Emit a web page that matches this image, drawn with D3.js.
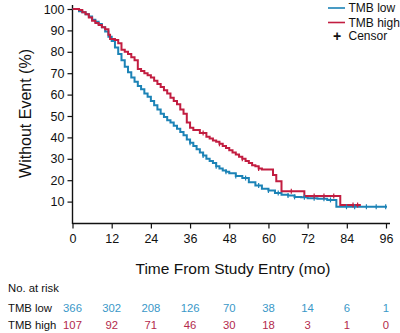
<!DOCTYPE html>
<html><head><meta charset="utf-8">
<script src="https://cdn.jsdelivr.net/npm/d3@7"></script>
<style>body{margin:0;background:#fff}svg{display:block;font-family:"Liberation Sans",Arial,sans-serif}</style>
</head><body><svg id="c" width="400" height="333"></svg>
<script>
// Kaplan-Meier step points: [month, % without event]
const lowTimes  = [0,2,3,4,5,6,7,8,9,10,11,12,13,14,15,16,17,18,19,20,21,22,23,24,25,26,27,28,29,30,31,32,33,34,35,36,37,38,39,40,41,42,43,44,45,46,47,48,50,52,54,56,58,60,62,64,66,68,70,72,75,78,80.8,96.3];
const lowVals   = [100,99,98.5,97.5,96.5,95,94,93,91.5,89.5,87,85,82,79,76,73,70.5,68,66,64,62.5,60.5,59,57,55,53,51,49.5,48,47,45.5,44,42.5,41,39,37.5,36,34.5,33,31.5,30,29,28,26.5,25.5,24.5,24,23.2,22,21,19,17.5,16,15.2,14,13.2,12.8,12.2,12,11.6,11.3,10.8,7.6,7.6];
const highTimes = [0,2,3,4,5,6,7,8,9,10,11,11.5,13,14,15,16,17,18,19,20,21,22,23,24,25,26,27,28,29,30,31,32,33,34,35,36,37,39,41,42,43,44,45,46,47,48,49,50,51,52,53,54,55,56,57,58,61.4,62.4,64,71,82,88.3];
const highVals  = [100,99.5,98.5,97.5,96,94.5,93.5,92.5,91.5,90.5,88,86,85.5,84,81,80,79,77.5,76,72,71,70,69,68,66.5,65,63.5,62,60.5,58.5,57,55.5,53,51,47,44.5,43.5,42,40.3,39.5,38.5,38,37,36,35,34,33,32,31,30,29,28,27,26.5,25.5,25,22.4,19.5,14.8,12.6,8.4,8.4];
const lowCensor  = [36,40,44,47,50,53,57,60,63,66,68,71,74,77,79,83.9,86.4,90,93,95.9];
const highCensor = [40,45,52,57,67,74,77,80,85.9,87.3];
const xTicks = [0,12,24,36,48,60,72,84,96];
const yTicks = [10,20,30,40,50,60,70,80,90,100];
const riskLow  = [366,302,208,126,70,38,14,6,1];
const riskHigh = [107,92,71,46,30,18,3,1,0];
const seriesNames = ["TMB low","TMB high"];
const colLow = "#1c83b6", colHigh = "#c21d40";
const txtLow = "#3a98c8", txtHigh = "#b32a4c";

const svg = d3.select("#c");
const x = d3.scaleLinear().domain([0,96]).range([72.5,386]);
const y = d3.scaleLinear().domain([0,100]).range([223,9]);

const low = lowTimes.map((t,i)=>({t, v:lowVals[i]}));
const high = highTimes.map((t,i)=>({t, v:highVals[i]}));

// axes
const gx = svg.append("g").attr("transform","translate(0,223.5)")
  .call(d3.axisBottom(x).tickValues(xTicks).tickSize(5).tickPadding(6).tickSizeOuter(0));
gx.select(".domain").attr("d","M72.5,0H390").attr("stroke","#111").attr("stroke-width",1.4);
gx.selectAll(".tick line").attr("stroke","#111").attr("stroke-width",1.2);
gx.selectAll("text").attr("font-size",12.5).attr("fill","#111").attr("font-family","Liberation Sans, Arial, sans-serif");

const gy = svg.append("g").attr("transform","translate(72.5,0)")
  .call(d3.axisLeft(y).tickValues(yTicks).tickSize(5).tickPadding(3).tickSizeOuter(0));
gy.select(".domain").attr("d","M0,5V224").attr("stroke","#111").attr("stroke-width",1.4);
gy.selectAll(".tick line").attr("stroke","#111").attr("stroke-width",1.2);
gy.selectAll("text").attr("font-size",12.5).attr("fill","#111").attr("font-family","Liberation Sans, Arial, sans-serif");

// curves
const line = d3.line().x(d=>x(d.t)).y(d=>y(d.v)).curve(d3.curveStepAfter);
svg.append("path").datum(low).attr("d",line).attr("fill","none").attr("stroke",colLow).attr("stroke-width",2);
svg.append("path").datum(high).attr("d",line).attr("fill","none").attr("stroke",colHigh).attr("stroke-width",2);

function valAt(series,t){let v=series[0].v;for(const d of series){if(d.t<=t)v=d.v;else break;}return v;}
function censors(series,times,col){
  svg.append("g").selectAll("path").data(times).join("path")
    .attr("d",t=>`M${x(t)},${y(valAt(series,t))-2.5}v5`)
    .attr("stroke",col).attr("stroke-width",1.2);
}
censors(low,lowCensor,colLow);
censors(high,highCensor,colHigh);

// axis titles
svg.append("text").attr("transform","translate(31,113.5) rotate(-90)").attr("text-anchor","middle")
  .attr("font-size",16).attr("fill","#111").text("Without Event (%)");
svg.append("text").attr("x",233).attr("y",273.5).attr("text-anchor","middle")
  .attr("font-size",15.5).attr("fill","#111").text("Time From Study Entry (mo)");

// legend
const lg = svg.append("g").attr("font-size",12).attr("fill","#111");
[[colLow,8],[colHigh,22.5]].forEach(([c,yy],i)=>{
  lg.append("line").attr("x1",328).attr("x2",345).attr("y1",yy).attr("y2",yy).attr("stroke",c).attr("stroke-width",1.6);
  lg.append("text").attr("x",348.5).attr("y",yy+4.3).text(seriesNames[i]);
});
lg.append("text").attr("x",337).attr("y",40.5).attr("text-anchor","middle").attr("font-size",14).attr("font-weight","bold").text("+");
lg.append("text").attr("x",348.5).attr("y",40).text("Censor");

// risk table
const rt = svg.append("g").attr("font-size",11.3);
rt.append("text").attr("x",8).attr("y",291.5).attr("fill","#111").text("No. at risk");
rt.append("text").attr("x",8).attr("y",311.5).attr("fill","#111").text(seriesNames[0]);
rt.append("text").attr("x",8).attr("y",328.5).attr("fill","#111").text(seriesNames[1]);
rt.selectAll(".rl").data(riskLow).join("text").attr("x",(d,i)=>x(xTicks[i])).attr("y",311.5)
  .attr("text-anchor","middle").attr("fill",txtLow).text(d=>d);
rt.selectAll(".rh").data(riskHigh).join("text").attr("x",(d,i)=>x(xTicks[i])).attr("y",328.5)
  .attr("text-anchor","middle").attr("fill",txtHigh).text(d=>d);
</script></body></html>
